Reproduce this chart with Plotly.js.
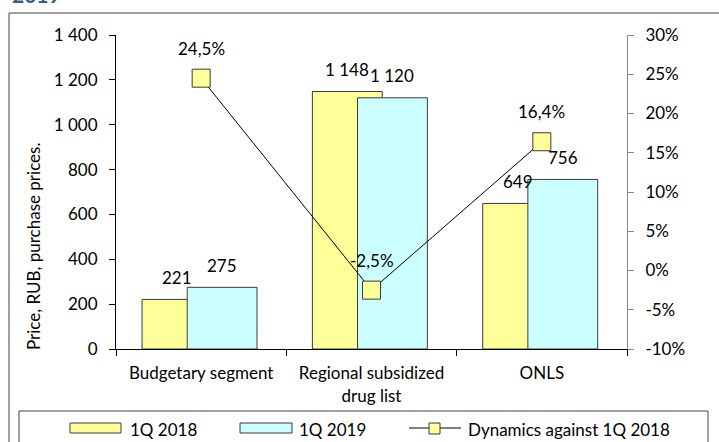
<!DOCTYPE html>
<html>
<head>
<meta charset="utf-8">
<script src="https://cdn.plot.ly/plotly-3.0.1.min.js"></script>
<style>
  html, body { margin: 0; padding: 0; background: #fff; }
  #chart { width: 719px; height: 442px; }
</style>
</head>
<body>
<div id="chart"></div>
<script>
// Chart data
const categories = ['Budgetary segment', 'Regional subsidized<br>drug list', 'ONLS'];
const prices2018 = [221, 1148, 649];
const prices2019 = [275, 1120, 756];
const dynamics = [24.5, -2.5, 16.4];
const seriesNames = ['1Q 2018', '1Q 2019', 'Dynamics against 1Q 2018'];
const pctTicks = [-10, -5, 0, 5, 10, 15, 20, 25, 30];
const pctLabels = ['-10%', '-5%', '0%', '5%', '10%', '15%', '20%', '25%', '30%'];

const FONT = 'Lato, "Noto Sans", sans-serif';
const FS = 17;
const yellow = '#ffff99';
const cyan = '#ccffff';
const edge = '#3a3a3a';

// bar geometry in category units (Excel style overlap)
const barWidth = 0.41;
const offset2018 = -0.347;
const offset2019 = -0.082;

// plot area in pixels, used to put frame / legend in paper units
const W = 719, H = 442;
const L = 116, R = 627, T = 35, B = 349;
const px = v => (v - L) / (R - L);
const py = v => (B - v) / (B - T);

const bar2018 = {
  type: 'bar', name: seriesNames[0], x: categories, y: prices2018,
  offset: offset2018, width: barWidth,
  marker: { color: yellow, line: { color: edge, width: 1 } },
  showlegend: false, hoverinfo: 'y'
};
const bar2019 = {
  type: 'bar', name: seriesNames[1], x: categories, y: prices2019,
  offset: offset2019, width: barWidth,
  marker: { color: cyan, line: { color: edge, width: 1 } },
  showlegend: false, hoverinfo: 'y'
};
const line = {
  type: 'scatter', mode: 'lines+markers', name: seriesNames[2],
  x: categories, y: dynamics, yaxis: 'y2',
  line: { color: '#000', width: 1 },
  marker: { symbol: 'square', size: 18, color: yellow, line: { color: edge, width: 1 } },
  showlegend: false, cliponaxis: false
};

function thousands(v) {
  return String(v).replace(/\B(?=(\d{3})+(?!\d))/g, ' ');
}

// value labels
const annotations = [];
categories.forEach((c, i) => {
  annotations.push({
    x: i + offset2018 + barWidth / 2, y: prices2018[i], xref: 'x', yref: 'y',
    text: thousands(prices2018[i]), showarrow: false, yanchor: 'middle', yshift: 22,
    font: { family: FONT, size: FS, color: '#000' }
  });
  annotations.push({
    x: i + offset2019 + barWidth / 2, y: prices2019[i], xref: 'x', yref: 'y',
    text: thousands(prices2019[i]), showarrow: false, yanchor: 'middle', yshift: 22,
    font: { family: FONT, size: FS, color: '#000' }
  });
  annotations.push({
    x: i, y: dynamics[i], xref: 'x', yref: 'y2',
    text: dynamics[i].toFixed(1).replace('.', ',') + '%', showarrow: false,
    yanchor: 'middle', yshift: 30,
    font: { family: FONT, size: FS, color: '#000' }
  });
});

// y axis title, placed where the source has it
annotations.push({
  xref: 'paper', yref: 'paper', x: px(33), y: py(247), xanchor: 'center', yanchor: 'middle',
  text: 'Price, RUB, purchase prices.', textangle: -90, showarrow: false,
  font: { family: FONT, size: 17, color: '#000' }
});

// cropped heading at the very top
annotations.push({
  xref: 'paper', yref: 'paper', x: px(10), y: py(9), xanchor: 'left', yanchor: 'bottom',
  text: '<b>2019</b>', showarrow: false,
  font: { family: FONT, size: 21, color: '#2f5d9a' }
});

// legend texts
const legendY = 429;
const legendText = [128, 297, 466];
seriesNames.forEach((n, i) => {
  annotations.push({
    xref: 'paper', yref: 'paper', x: px(legendText[i]), y: py(legendY),
    xanchor: 'left', yanchor: 'middle', text: n, showarrow: false,
    font: { family: FONT, size: FS, color: '#000' }
  });
});

const shapes = [
  // outer frame
  { type: 'rect', xref: 'paper', yref: 'paper', x0: px(9), x1: px(730), y0: py(460), y1: py(13),
    line: { color: '#404040', width: 1 }, layer: 'below' },
  // legend box
  { type: 'rect', xref: 'paper', yref: 'paper', x0: px(19), x1: px(708), y0: py(460), y1: py(411),
    line: { color: '#404040', width: 1 } },
  // legend swatches
  { type: 'rect', xref: 'paper', yref: 'paper', x0: px(70), x1: px(121), y0: py(433), y1: py(423),
    fillcolor: yellow, line: { color: edge, width: 1 } },
  { type: 'rect', xref: 'paper', yref: 'paper', x0: px(240), x1: px(292), y0: py(433), y1: py(423),
    fillcolor: cyan, line: { color: edge, width: 1 } },
  { type: 'line', xref: 'paper', yref: 'paper', x0: px(409), x1: px(461), y0: py(428), y1: py(428),
    line: { color: '#000', width: 1 } },
  { type: 'rect', xref: 'paper', yref: 'paper', x0: px(429), x1: px(440), y0: py(434), y1: py(423),
    fillcolor: yellow, line: { color: edge, width: 1 } }
];

const layout = {
  width: W, height: H,
  margin: { l: L, r: W - R, t: T, b: H - B, pad: 0 },
  paper_bgcolor: '#fff', plot_bgcolor: '#fff',
  separators: ', ',
  barmode: 'overlay',
  showlegend: false,
  font: { family: FONT, size: FS, color: '#000' },
  xaxis: {
    type: 'category', range: [-0.5, 2.5], tickson: 'boundaries',
    ticks: 'outside', ticklen: 6, tickcolor: '#000',
    showline: true, linecolor: '#000', linewidth: 1, showgrid: false, zeroline: false,
    ticklabelstandoff: 9,
    tickfont: { family: FONT, size: FS, color: '#000' }
  },
  yaxis: {
    range: [0, 1400], dtick: 200, tickformat: ',d',
    ticks: 'outside', ticklen: 6, tickcolor: '#000',
    showline: true, linecolor: '#000', linewidth: 1, showgrid: false, zeroline: false,
    ticklabelstandoff: 8,
    tickfont: { family: FONT, size: FS, color: '#000' }
  },
  yaxis2: {
    overlaying: 'y', side: 'right', range: [-10, 30],
    tickmode: 'array', tickvals: pctTicks, ticktext: pctLabels,
    ticks: 'outside', ticklen: 6, tickcolor: '#888',
    showline: true, linecolor: '#888', linewidth: 1, showgrid: false, zeroline: false,
    ticklabelstandoff: 8,
    tickfont: { family: FONT, size: FS, color: '#000' }
  },
  annotations: annotations,
  shapes: shapes
};

Plotly.newPlot('chart', [bar2018, bar2019, line], layout, { displayModeBar: false, staticPlot: true });
</script>
</body>
</html>
